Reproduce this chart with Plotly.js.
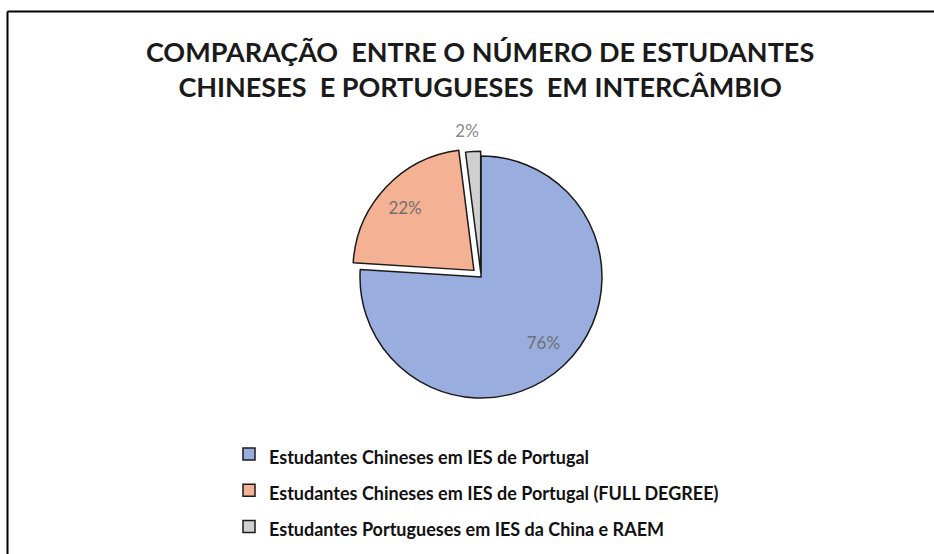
<!DOCTYPE html>
<html>
<head>
<meta charset="utf-8">
<script src="https://cdn.plot.ly/plotly-3.0.1.min.js"></script>
<style>
  html, body { margin: 0; padding: 0; background: #fff; }
  #chart { width: 934px; height: 554px; }
  #chart .textline { display: none; }
</style>
</head>
<body>
<div id="chart"></div>
<script>
const titleText = 'COMPARAÇÃO  ENTRE O NÚMERO DE ESTUDANTES<br>CHINESES  E PORTUGUESES  EM INTERCÂMBIO';
const categories = [
  'Estudantes Chineses em IES de Portugal',
  'Estudantes Chineses em IES de Portugal (FULL DEGREE)',
  'Estudantes Portugueses em IES da China e RAEM'
];
const shares = [76, 22, 2];

// styling / layout only
const sliceColors = ['#99aedf', '#f5b194', '#d0d0d0'];
const slicePull = [0, 0.08, 0.04];
const textPositions = ['inside', 'inside', 'outside'];
const labelNudge = [[21, 21], [-15, -12], [11, -9]];

const W = 934, H = 554;
const cx = 481, cy = 277, boxSize = 2 * 121 * 1.08;

const trace = {
  type: 'pie',
  labels: categories.map(c => '<span style="font-size:18px">' + c + '</span>'),
  values: shares,
  sort: false,
  direction: 'clockwise',
  rotation: 0,
  pull: slicePull,
  marker: { colors: sliceColors, line: { color: '#1a1a1a', width: 1.5 } },
  textinfo: 'percent',
  texttemplate: '%{percent:.0%}',
  textposition: textPositions,
  insidetextorientation: 'horizontal',
  insidetextfont: { family: 'Lato, sans-serif', size: 17, color: '#707070' },
  outsidetextfont: { family: 'Lato, sans-serif', size: 17, color: '#8a8a8a' },
  domain: {
    x: [(cx - boxSize / 2) / W, (cx + boxSize / 2) / W],
    y: [1 - (cy + boxSize / 2) / H, 1 - (cy - boxSize / 2) / H]
  },
  hoverinfo: 'label+percent'
};

const layout = {
  width: W, height: H,
  margin: { l: 0, r: 0, t: 0, b: 0 },
  paper_bgcolor: '#ffffff',
  title: {
    text: '<b>' + titleText + '</b>',
    font: { family: 'Lato, sans-serif', size: 27, color: '#1a1a1a' },
    x: 0.514, xanchor: 'center',
    y: 1 - 62 / H, yanchor: 'middle'
  },
  showlegend: true,
  legend: {
    x: 229 / W, xanchor: 'left',
    y: 1 - 431 / H, yanchor: 'top',
    orientation: 'v',
    font: { family: 'Lato, sans-serif', size: 25.5, color: '#111111', weight: 'bold' },
    bgcolor: 'rgba(0,0,0,0)',
    itemclick: false
  },
  shapes: [
    { type: 'line', xref: 'paper', yref: 'paper', x0: 7.5 / W, x1: 1, y0: 1 - 11.5 / H, y1: 1 - 11.5 / H, line: { color: '#000', width: 2 } },
    { type: 'line', xref: 'paper', yref: 'paper', x0: 7.5 / W, x1: 7.5 / W, y0: 0, y1: 1 - 11.5 / H, line: { color: '#000', width: 2 } }
  ]
};

Plotly.newPlot('chart', [trace], layout, { displayModeBar: false, staticPlot: true }).then(gd => {
  const slices = gd.querySelectorAll('.pielayer .slice');
  slices.forEach((s, i) => {
    const t = s.querySelector('text.slicetext');
    if (!t || !labelNudge[i]) return;
    const tr = t.getAttribute('transform') || '';
    t.setAttribute('transform', 'translate(' + labelNudge[i][0] + ',' + labelNudge[i][1] + ') ' + tr);
  });
});
</script>
</body>
</html>
